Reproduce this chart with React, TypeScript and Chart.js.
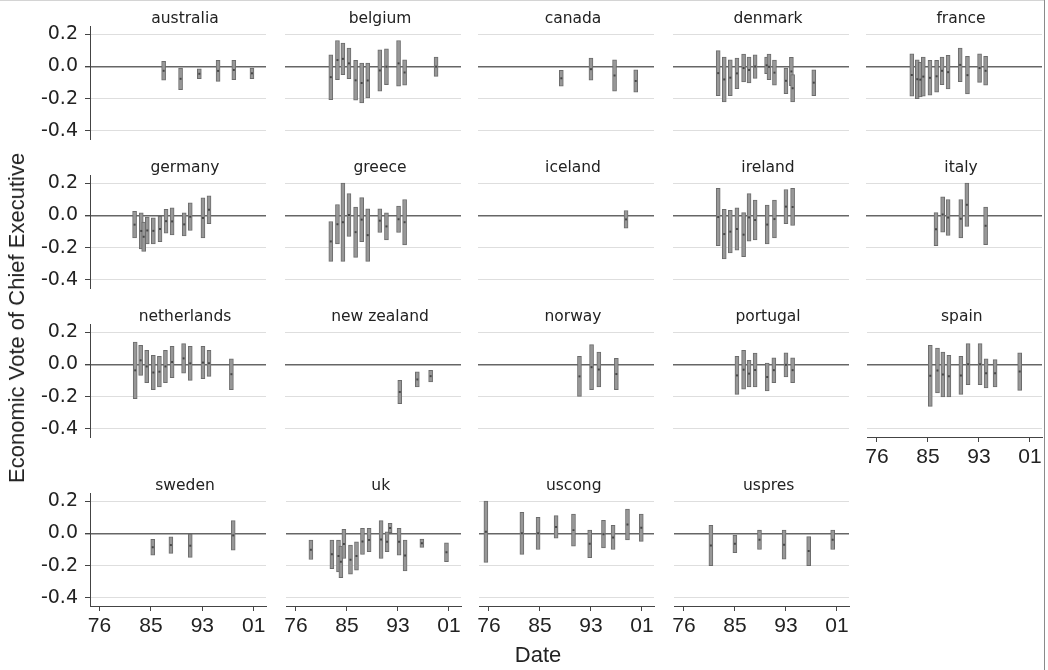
import React, { useEffect, useRef } from 'react';
import { Chart, registerables } from 'chart.js';

Chart.register(...registerables);

// ---------- data ----------
const xTickValues = [1976, 1984.5, 1993, 2001.5];
const xTickLabels = ['76', '85', '93', '01'];
const yTickValues = [0.2, 0, -0.2, -0.4];
const yTickLabels = ['0.2', '0.0', '-0.2', '-0.4'];

const countries = [
  'australia', 'belgium', 'canada', 'denmark', 'france',
  'germany', 'greece', 'iceland', 'ireland', 'italy',
  'netherlands', 'new zealand', 'norway', 'portugal', 'spain',
  'sweden', 'uk', 'uscong', 'uspres',
];

// [year, lower bound, upper bound]
const australia = [[1986.6, -0.086, 0.031], [1989.4, -0.144, -0.01], [1992.5, -0.076, -0.016], [1995.6, -0.093, 0.037], [1998.2, -0.082, 0.037], [2001.2, -0.076, -0.01]];
const belgium = [[1982.0, -0.206, 0.072], [1983.1, -0.082, 0.16], [1984.0, -0.051, 0.144], [1985.0, -0.076, 0.113], [1986.1, -0.21, 0.037], [1987.1, -0.226, 0.02], [1988.1, -0.195, 0.02], [1990.1, -0.154, 0.103], [1991.2, -0.113, 0.109], [1993.2, -0.123, 0.16], [1994.2, -0.117, 0.041], [1999.4, -0.062, 0.058]];
const canada = [[1988.2, -0.123, -0.025], [1993.1, -0.086, 0.051], [1997.0, -0.154, 0.041], [2000.5, -0.16, -0.021]];
const denmark = [[1981.9, -0.181, 0.097], [1982.9, -0.22, 0.058], [1983.9, -0.181, 0.041], [1985.0, -0.138, 0.051], [1986.1, -0.097, 0.076], [1987.0, -0.103, 0.058], [1988.0, -0.074, 0.072], [1989.9, -0.045, 0.058], [1990.3, -0.082, 0.076], [1991.2, -0.117, 0.039], [1993.1, -0.169, -0.01], [1994.0, -0.119, 0.056], [1994.2, -0.22, -0.051], [1997.7, -0.181, -0.021]];
const france = [[1982.0, -0.185, 0.078], [1982.9, -0.2, 0.041], [1983.4, -0.19, 0.025], [1983.9, -0.185, 0.058], [1985.0, -0.179, 0.037], [1986.1, -0.16, 0.037], [1987.0, -0.113, 0.058], [1988.0, -0.14, 0.068], [1990.0, -0.095, 0.113], [1991.2, -0.171, 0.062], [1993.2, -0.099, 0.078], [1994.2, -0.117, 0.062]];
const germany = [[1981.8, -0.14, 0.025], [1982.9, -0.208, 0.015], [1983.3, -0.223, -0.042], [1983.9, -0.177, -0.01], [1984.9, -0.177, -0.015], [1986.0, -0.163, -0.006], [1987.0, -0.11, 0.038], [1988.0, -0.121, 0.046], [1990.0, -0.127, 0.015], [1991.0, -0.094, 0.077], [1993.1, -0.14, 0.108], [1994.1, -0.052, 0.121]];
const greece = [[1982.0, -0.285, -0.038], [1983.1, -0.177, 0.067], [1984.0, -0.285, 0.2], [1985.0, -0.131, 0.135], [1986.1, -0.26, 0.052], [1987.1, -0.163, 0.11], [1988.1, -0.285, 0.04], [1990.1, -0.106, 0.04], [1991.2, -0.152, 0.015], [1993.2, -0.106, 0.058], [1994.2, -0.183, 0.098]];
const iceland = [[1998.9, -0.08, 0.03]];
const ireland = [[1981.9, -0.188, 0.167], [1982.9, -0.27, 0.038], [1983.9, -0.233, 0.031], [1985.0, -0.215, 0.046], [1986.1, -0.256, 0.017], [1987.0, -0.16, 0.135], [1988.0, -0.152, 0.094], [1990.0, -0.177, 0.063], [1991.2, -0.14, 0.094], [1993.1, -0.052, 0.16], [1994.2, -0.063, 0.167]];
const italy = [[1986.0, -0.188, 0.017], [1987.1, -0.104, 0.115], [1988.0, -0.125, 0.098], [1990.1, -0.14, 0.098], [1991.1, -0.069, 0.2], [1994.2, -0.181, 0.052]];
const netherlands = [[1981.9, -0.212, 0.138], [1982.8, -0.068, 0.118], [1983.8, -0.113, 0.087], [1984.9, -0.157, 0.056], [1985.9, -0.14, 0.049], [1986.9, -0.113, 0.087], [1988.0, -0.082, 0.111], [1989.9, -0.054, 0.128], [1991.0, -0.099, 0.111], [1993.1, -0.089, 0.111], [1994.1, -0.074, 0.087], [1997.8, -0.157, 0.035]];
const newZealand = [[1993.4, -0.243, -0.099], [1996.3, -0.14, -0.047], [1998.5, -0.109, -0.037]];
const norway = [[1991.2, -0.198, 0.049], [1993.2, -0.157, 0.122], [1994.4, -0.14, 0.076], [1997.3, -0.157, 0.037]];
const portugal = [[1985.0, -0.186, 0.049], [1986.1, -0.153, 0.087], [1987.0, -0.14, 0.025], [1988.0, -0.14, 0.07], [1990.0, -0.165, 0.008], [1991.1, -0.113, 0.041], [1993.1, -0.078, 0.072], [1994.2, -0.113, 0.041]];
const spain = [[1984.9, -0.26, 0.118], [1986.1, -0.177, 0.101], [1987.0, -0.202, 0.076], [1988.0, -0.202, 0.056], [1990.0, -0.186, 0.049], [1991.2, -0.126, 0.128], [1993.2, -0.126, 0.128], [1994.2, -0.146, 0.035], [1995.7, -0.14, 0.029], [1999.8, -0.161, 0.072]];
const sweden = [[1984.8, -0.135, -0.037], [1987.8, -0.124, -0.021], [1991.0, -0.149, -0.004], [1998.1, -0.104, 0.079]];
const uk = [[1978.5, -0.162, -0.041], [1982.0, -0.218, -0.041], [1983.1, -0.239, -0.041], [1983.5, -0.274, -0.079], [1984.0, -0.156, 0.025], [1985.1, -0.253, -0.073], [1986.1, -0.228, -0.052], [1987.1, -0.131, 0.031], [1988.2, -0.114, 0.031], [1990.2, -0.156, 0.079], [1991.2, -0.114, 0.01], [1991.7, 0.004, 0.062], [1993.2, -0.135, 0.031], [1994.2, -0.232, -0.041], [1997.0, -0.087, -0.035], [2001.1, -0.176, -0.058]];
const uscong = [[1975.5, -0.18, 0.2], [1981.5, -0.13, 0.13], [1984.2, -0.1, 0.1], [1987.2, -0.03, 0.11], [1990.1, -0.08, 0.12], [1992.8, -0.15, 0.02], [1995.1, -0.09, 0.08], [1996.7, -0.1, 0.05], [1999.1, -0.04, 0.15], [2001.4, -0.05, 0.12]];
const uspres = [[1980.5, -0.2, 0.05], [1984.5, -0.12, -0.01], [1988.6, -0.1, 0.02], [1992.7, -0.16, 0.02], [1996.8, -0.2, -0.02], [2000.8, -0.1, 0.02]];

const seriesList = [
  australia, belgium, canada, denmark, france,
  germany, greece, iceland, ireland, italy,
  netherlands, newZealand, norway, portugal, spain,
  sweden, uk, uscong, uspres,
];

// ---------- layout ----------
const FONT = '"Liberation Sans", Arial, Helvetica, sans-serif';
const WIDE_FONT = '"DejaVu Sans", Verdana, sans-serif';
const COL_LEFT = [90, 285, 478, 673, 866];
const ROW_TOP = [26, 175, 324, 493];
const PLOT_W = 176;
const PLOT_H = 113;
const X_MIN = 1976 - 9.5 / 6.05;
const X_MAX = X_MIN + PLOT_W / 6.05;

const panelTitlePlugin = {
  id: 'panelTitle',
  afterDraw(chart: any, _args: any, opts: any) {
    const { ctx, chartArea } = chart;
    ctx.save();
    ctx.font = `15.5px ${WIDE_FONT}`;
    ctx.fillStyle = '#222';
    ctx.textAlign = 'center';
    ctx.textBaseline = 'alphabetic';
    ctx.fillText(opts.text, (chartArea.left + chartArea.right) / 2 + 7, chartArea.top - 3.3);
    ctx.restore();
  },
};

type PanelProps = { title: string; bars: number[][]; col: number; row: number; showY: boolean; showX: boolean };

function Panel({ title, bars, col, row, showY, showX }: PanelProps) {
  const ref = useRef<HTMLCanvasElement>(null);
  const padL = showY ? 0 : 4;
  const yW = showY ? 90 : 0;
  const padR = 6;
  const padTop = 26;
  const padBottom = 22;
  const xH = showX ? 40 : 0;
  const left = COL_LEFT[col] - yW - padL;
  const top = ROW_TOP[row] - padTop;
  const width = padL + yW + PLOT_W + padR;
  const height = padTop + PLOT_H + padBottom + xH;

  useEffect(() => {
    if (!ref.current) return;
    const chart = new Chart(ref.current, {
      type: 'bar',
      data: {
        datasets: [
          {
            type: 'bar',
            data: bars.map(([x, lo, hi]) => ({ x, y: [lo, hi] })) as any,
            backgroundColor: '#979797',
            borderColor: '#6c6c6c',
            borderWidth: 1,
            borderSkipped: false,
            barThickness: 4,
            order: 2,
          } as any,
          {
            type: 'scatter',
            data: bars.map(([x, lo, hi]) => ({ x, y: (lo + hi) / 2 })),
            pointStyle: 'rect',
            pointRadius: 1.4,
            backgroundColor: '#454545',
            borderWidth: 0,
            order: 1,
          } as any,
        ],
      },
      options: {
        responsive: false,
        animation: false,
        events: [],
        layout: { padding: { left: padL, right: padR, top: padTop, bottom: padBottom } },
        plugins: {
          legend: { display: false },
          tooltip: { enabled: false },
          title: { display: false },
          panelTitle: { text: title },
        } as any,
        scales: {
          x: {
            type: 'linear',
            min: X_MIN,
            max: X_MAX,
            offset: false,
            afterBuildTicks: (s: any) => { s.ticks = xTickValues.map((v) => ({ value: v })); },
            afterFit: (s: any) => { s.height = xH; },
            ticks: {
              display: showX,
              autoSkip: false,
              maxRotation: 0,
              padding: 3,
              color: '#222',
              font: { family: FONT, size: 21 },
              callback: (_v: any, i: number) => xTickLabels[i],
            },
            grid: { display: showX, offset: false, drawOnChartArea: false, drawTicks: showX, tickLength: 5, tickColor: '#444' },
            border: { display: showX, color: '#444', width: 1 },
          },
          y: {
            type: 'linear',
            min: -0.45,
            max: 0.25,
            afterBuildTicks: (s: any) => { s.ticks = yTickValues.map((v) => ({ value: v })); },
            afterFit: (s: any) => { s.width = yW; },
            ticks: {
              display: showY,
              padding: 7,
              color: '#222',
              font: { family: WIDE_FONT, size: 19 },
              callback: (_v: any, i: number) => yTickLabels[i],
            },
            grid: {
              color: (c: any) => (c.tick && c.tick.value === 0 ? '#666666' : '#dedede'),
              lineWidth: (c: any) => (c.tick && c.tick.value === 0 ? 1.4 : 1),
              drawTicks: showY,
              tickLength: 5,
              tickColor: '#444',
            },
            border: { display: showY, color: '#444', width: 1 },
          },
        },
      } as any,
      plugins: [panelTitlePlugin as any],
    });
    return () => chart.destroy();
  }, []);

  return (
    <div style={{ position: 'absolute', left, top, width, height }}>
      <canvas ref={ref} width={width} height={height} style={{ width, height, display: 'block' }} />
    </div>
  );
}

export default function App() {
  return (
    <div style={{ position: 'fixed', left: 0, top: 0, width: 1048, height: 670, background: '#fff', overflow: 'hidden', fontFamily: FONT }}>
      <div style={{ position: 'absolute', left: 0, top: 0, width: 1045, height: 1, background: '#d4d4d4' }} />
      <div style={{ position: 'absolute', left: 1044, top: 0, width: 1, height: 670, background: '#8a8a8a' }} />
      {countries.map((name, i) => {
        const row = Math.floor(i / 5);
        const col = i % 5;
        const showX = row === 3 || (row === 2 && col === 4);
        return <Panel key={name} title={name} bars={seriesList[i]} col={col} row={row} showY={col === 0} showX={showX} />;
      })}
      <div style={{ position: 'absolute', left: 17, top: 318, transform: 'translate(-50%, -50%) rotate(-90deg)', whiteSpace: 'nowrap', fontSize: 22, color: '#222' }}>
        Economic Vote of Chief Executive
      </div>
      <div style={{ position: 'absolute', left: 538, top: 655, transform: 'translate(-50%, -50%)', whiteSpace: 'nowrap', fontSize: 22, color: '#222' }}>
        Date
      </div>
    </div>
  );
}
